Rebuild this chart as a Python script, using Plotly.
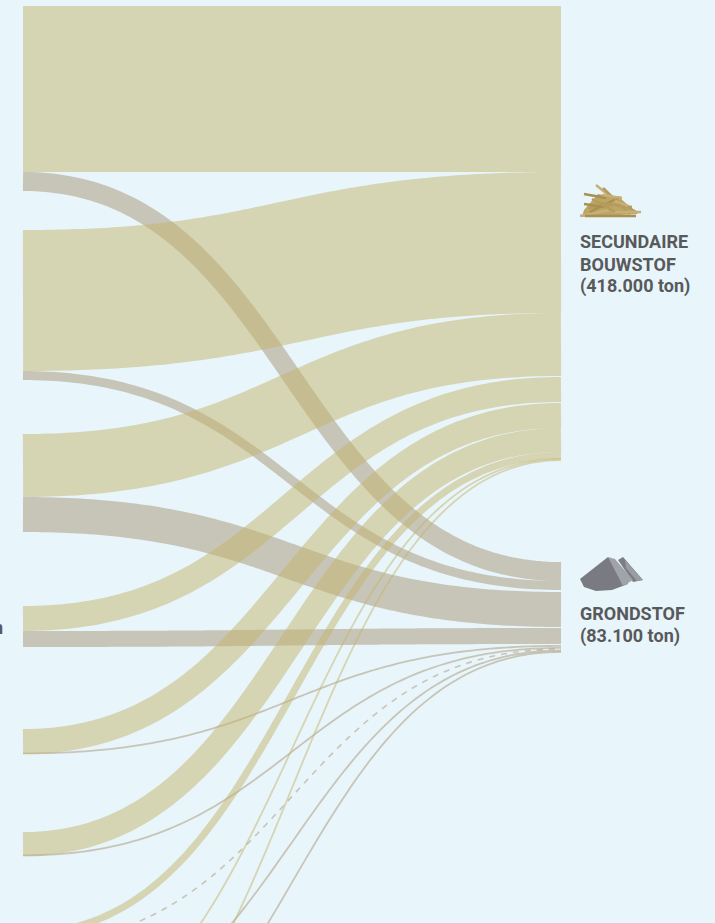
import plotly.graph_objects as go

# ---- data: flows, in chart units (1 unit = 1 px of the 923 tall chart)
product_labels = ["SECUNDAIRE", "BOUWSTOF", "(418.000 ton)", "GRONDSTOF", "(83.100 ton)"]
label_y = [241, 264, 286, 613, 636]

beige_source_top = [6, 230, 434, 606, 729, 832, 930, 1038, 1115]
beige_thickness = [166, 141, 63, 25, 25, 24, 7, 1.8, 1.8]
beige_target_top = [6, 172, 313, 377, 403, 428, 452, 458, 459.2]

grey_source_top = [172, 371, 497, 631, 752.5, 854.5, 943, 1033, 1112]
grey_thickness = [19, 9, 35, 16, 1.8, 1.8, 1.6, 1.8, 1.8]
grey_target_top = [562, 581, 592, 628, 645, 647, 648.3, 649.6, 651]
grey_dash = ["solid", "solid", "solid", "solid", "solid", "solid", "6px,6px", "solid", "solid"]

BG = "#e8f5fb"
BEIGE = "#c5b76d"
GREY = "#a89775"
LINK_OPACITY = 0.5
X0, X1 = 23, 561
N = 120


def ribbon(y0, y1):
    xs, ys = [], []
    for i in range(N + 1):
        t = i / N
        xs.append((1 - t) ** 3 * X0 + 3 * (1 - t) ** 2 * t * (X0 + X1) / 2
                  + 3 * (1 - t) * t ** 2 * (X0 + X1) / 2 + t ** 3 * X1)
        ys.append(((1 - t) ** 3 + 3 * (1 - t) ** 2 * t) * y0
                  + (3 * (1 - t) * t ** 2 + t ** 3) * y1)
    return xs, ys


fig = go.Figure()


def add_links(tops, thick, targets, color, dashes=None):
    for i, (a, w, b) in enumerate(zip(tops, thick, targets)):
        xs, ys = ribbon(a + w / 2, b + w / 2)
        fig.add_trace(go.Scatter(
            x=xs, y=ys, mode="lines", opacity=LINK_OPACITY, hoverinfo="skip", showlegend=False,
            line=dict(color=color, width=w, simplify=False, dash=(dashes[i] if dashes else "solid")),
        ))


add_links(grey_source_top, grey_thickness, grey_target_top, GREY, grey_dash)
add_links(beige_source_top, beige_thickness, beige_target_top, BEIGE)

FONT = dict(family="Roboto", size=18, color="#58595b")
annotations = [
    dict(x=578, y=yy, text=f"<b>{t}</b>", xref="x", yref="y", xanchor="left", yanchor="middle",
         showarrow=False, font=FONT)
    for t, yy in zip(product_labels, label_y)
]
annotations.append(dict(x=5, y=627, text="<b>ton</b>", xref="x", yref="y", xanchor="right", yanchor="middle",
                        showarrow=False, font=FONT))

shapes = [dict(type="path", path="M584 210 L598 194 L620 198 L638 214 L582 217 Z", xref="x", yref="y",
               fillcolor="#bca565", line=dict(width=0))]
sticks = [
    (588, 208, 612, 205), (596, 185, 624, 208), (584, 194, 606, 198), (603, 188, 630, 214),
    (580, 216, 610, 210), (590, 212, 620, 197), (610, 196, 636, 212), (612, 212, 641, 212),
    (585, 216, 636, 216), (600, 203, 632, 207), (602, 195, 622, 198), (584, 204, 604, 207),
    (592, 199, 615, 212), (615, 201, 628, 206),
]
stick_colors = ["#b59b5e", "#c7b077", "#a98f50"]
for i, (a, b, c, d) in enumerate(sticks):
    shapes.append(dict(type="line", xref="x", yref="y", x0=a, y0=b, x1=c, y1=d,
                       line=dict(color=stick_colors[i % 3], width=2.5)))
rock_parts = [
    ("M618 560 L623 557 L643 580 L633 582 Z", "#7c7e86"),
    ("M625 560 L643 580 L637 581 L626 568 Z", "#9a9ea3"),
    ("M580 579 L608 557 L618 568 L628 584 L612 590 L596 591 L584 587 Z", "#797a82"),
    ("M608 557 L615 559 L633 580 L623 586 Z", "#a0a4a8"),
]
for p, c in rock_parts:
    shapes.append(dict(type="path", path=p, xref="x", yref="y", fillcolor=c, line=dict(width=0)))

fig.update_layout(
    width=715, height=923, margin=dict(l=0, r=0, t=0, b=0),
    paper_bgcolor=BG, plot_bgcolor=BG, showlegend=False,
    xaxis=dict(range=[0, 715], visible=False, fixedrange=True),
    yaxis=dict(range=[923, 0], visible=False, fixedrange=True),
    annotations=annotations, shapes=shapes,
)
fig.write_html("out.html", config=dict(displayModeBar=False),
               post_script="document.body.style.margin='0';document.body.style.overflow='hidden';document.body.style.background='#e8f5fb';")
